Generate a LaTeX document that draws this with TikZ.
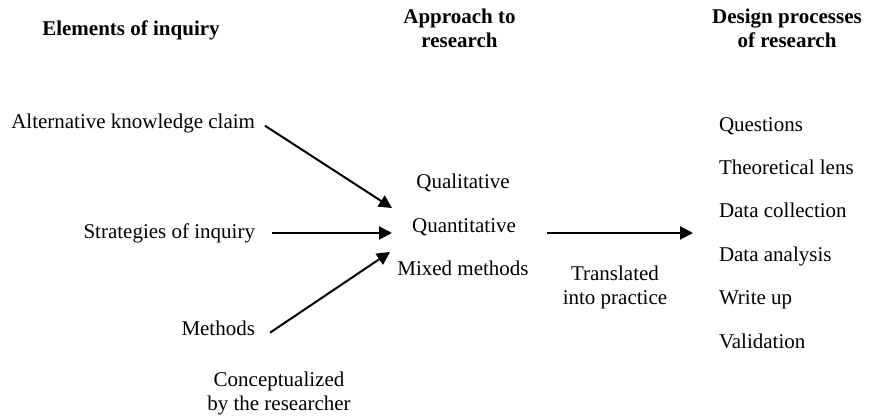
\documentclass[tikz,border=0pt]{standalone}
\usepackage{fontspec}
\setmainfont{Liberation Serif}
\usetikzlibrary{arrows.meta}
\begin{document}
\begin{tikzpicture}[x=1pt,y=-1pt,
  every node/.style={inner sep=0pt,outer sep=0pt,font=\fontsize{21}{24}\selectfont},
  head/.style={font=\fontsize{21}{24}\selectfont\bfseries,align=center,anchor=north},
  lbl/.style={anchor=base east},
  mid/.style={anchor=base},
  item/.style={anchor=base west},
  note/.style={align=center,anchor=north},
  arr/.style={line width=2pt,-{Triangle[length=13pt,width=13pt]}}]
\useasboundingbox (0,0) rectangle (871,418);
% headings
\node[head] (h1) at (131,20.5) {Elements of inquiry};
\node[head] (h2) at (459.5,8.5) {Approach to\\research};
\node[head] (h3) at (787,8.5) {Design processes\\of research};
% left column
\node[lbl] (akc) at (255,128) {Alternative knowledge claim};
\node[lbl] (soi) at (255,238) {Strategies of inquiry};
\node[lbl] (meth) at (255,335) {Methods};
% middle column
\node[mid] (qual) at (463,188) {Qualitative};
\node[mid] (quant) at (464,232) {Quantitative};
\node[mid] (mixed) at (463,275) {Mixed methods};
% right column
\node[item] (q1) at (719,131) {Questions};
\node[item] (q2) at (719,174.4) {Theoretical lens};
\node[item] (q3) at (719,217.8) {Data collection};
\node[item] (q4) at (719,261.2) {Data analysis};
\node[item] (q5) at (719,304.6) {Write up};
\node[item] (q6) at (719,348) {Validation};
% notes
\node[note] (trans) at (615,265.5) {Translated\\into practice};
\node[note] (conc) at (279,371.5) {Conceptualized\\by the researcher};
% arrow ends
\coordinate (inA) at (392,208);
\coordinate (inB) at (392,233);
\coordinate (inC) at (390,252);
\coordinate (outS) at (547,233);
\coordinate (outE) at (693,233);
\draw[arr] ([xshift=10pt]akc.mid east) -- (inA);
\draw[arr] (soi.east |- inB) ++(17pt,0) -- (inB);
\draw[arr] ([xshift=15pt]meth.mid east) -- (inC);
\draw[arr] (outS) -- (outE);
\end{tikzpicture}
\end{document}
